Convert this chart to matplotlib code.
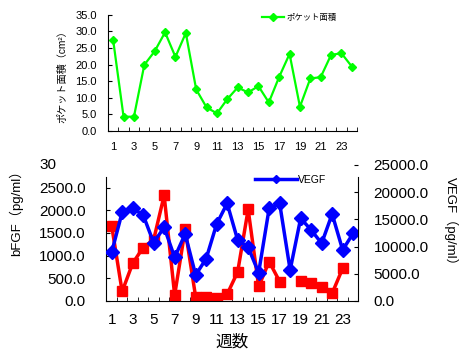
import numpy as np
import matplotlib
matplotlib.use('Agg')
import matplotlib.pyplot as plt

plt.rcParams['font.family'] = ['Liberation Sans', 'Noto Sans CJK JP']

weeks = np.arange(1, 25)
week_labels = [str(w) for w in range(1, 24, 2)]

# pocket area (cm2)
pocket = [27.3, 4.3, 4.3, 19.9, 24.0, 29.7, 22.3, 29.5, 12.5, 7.1, 5.3, 9.6,
          13.1, 11.6, 13.5, 8.6, 16.3, 23.2, 7.3, 15.8, 16.2, 22.9, 23.4, 19.4]

# bFGF (pg/ml), no value at week 18 and 24
bfgf = [1660, 210, 830, 1180, 1350, 2330, 130, 1580, 90, 90, 60, 150,
        640, 2020, 320, 870, 430, np.nan, 450, 390, 300, 170, 720, np.nan]

# VEGF (pg/ml)
vegf = [8950, 16300, 17030, 15810, 10720, 13540, 8030, 12320, 4780, 7780, 14150, 17950,
        11210, 9870, 5210, 17030, 17950, 5700, 15200, 13050, 10600, 15990, 9380, 12440]

fig = plt.figure(figsize=(4.6, 3.52), dpi=100)

# ---- top chart
ax1 = fig.add_axes([108 / 460, 1 - 131 / 352, 249 / 460, 116.3 / 352])
ax1.plot(weeks, pocket, c='#00ff00', lw=1.6, marker='D', ms=4.5, label='ポケット面積')
ax1.set_xlim(0.5, 24.5)
ax1.set_ylim(0, 35)
ax1.set_yticks(np.arange(0, 36, 5))
ax1.set_yticklabels(['%.1f' % v for v in np.arange(0, 36, 5)])
ax1.set_xticks(range(1, 24, 2))
ax1.set_xticklabels(week_labels)
ax1.set_xticks(np.arange(0.5, 25, 1), minor=True)
ax1.tick_params(axis='x', which='major', length=0, pad=8, labelsize=8)
ax1.tick_params(axis='x', which='minor', direction='in', length=3)
ax1.tick_params(axis='y', direction='in', length=3, pad=8, labelsize=8)
ax1.spines['top'].set_visible(False)
ax1.spines['right'].set_visible(False)
ax1.set_ylabel('ポケット面積（cm²）', fontsize=7.3)
ax1.yaxis.set_label_coords(-0.165, 0.49)
ax1.legend(loc='center left', bbox_to_anchor=(262 / 460, 1 - 18 / 352),
           bbox_transform=fig.transFigure, frameon=False, fontsize=6,
           handlelength=2.6, handletextpad=0.3, borderpad=0, borderaxespad=0)

# ---- bottom chart
ax2 = fig.add_axes([106.4 / 460, 1 - 301 / 352, 252 / 460, 136 / 352])
ax3 = ax2.twinx()
ax2.plot(weeks, bfgf, c='#ff0000', lw=2.5, marker='s', ms=7.5)
ax3.plot(weeks, vegf, c='#0000ff', lw=2.5, marker='D', ms=7, label='VEGF')

ax2.set_xlim(0.5, 24.5)
ax2.set_ylim(0, 3000)
ax3.set_ylim(0, 25000)
ax2.set_yticks(np.arange(0, 2501, 500))
ax2.set_yticklabels(['%.1f' % v for v in np.arange(0, 2501, 500)])
ax3.set_yticks(np.arange(0, 25001, 5000))
ax3.set_yticklabels(['%.1f' % v for v in np.arange(0, 25001, 5000)])
ax2.set_xticks(range(1, 24, 2))
ax2.set_xticklabels(week_labels)
ax2.set_xticks(np.arange(0.5, 25, 1), minor=True)
ax2.tick_params(axis='x', which='major', length=0, pad=9, labelsize=11)
ax2.tick_params(axis='x', which='minor', direction='in', length=3)
ax2.tick_params(axis='y', direction='in', length=3, pad=15, labelsize=11)
ax3.tick_params(axis='y', direction='in', length=3, pad=11, labelsize=11)

for a in (ax2, ax3):
    a.spines['top'].set_visible(False)
ax2.spines['right'].set_visible(False)
ax3.spines['left'].set_visible(False)
ax3.spines['bottom'].set_visible(False)
ax2.spines['left'].set_bounds(0, 2735)
ax3.spines['right'].set_bounds(0, 22800)

# clipped "3000.0" label left over at the top of the left axis
fig.text(39 / 460, 1 - 165 / 352, '30', fontsize=11, ha='left', va='center')

ax2.set_ylabel('bFGF（pg/ml）', fontsize=9.5)
ax2.yaxis.set_label_coords(-0.331, 0.67)
ax3.set_ylabel('VEGF（pg/ml）', fontsize=9.5, rotation=270, va='center', ha='center')
ax3.yaxis.set_label_coords(1.368, 0.566)
ax2.set_xlabel('週数', fontsize=12, va='center')
ax2.xaxis.set_label_coords(0.5, -0.30)

ax3.legend(loc='center left', bbox_to_anchor=(255 / 460, 1 - 180 / 352),
           bbox_transform=fig.transFigure, frameon=False, fontsize=7.5,
           handlelength=4, handletextpad=0.1, borderpad=0, borderaxespad=0,
           markerscale=0.6)

fig.savefig('out.png', dpi=100)
